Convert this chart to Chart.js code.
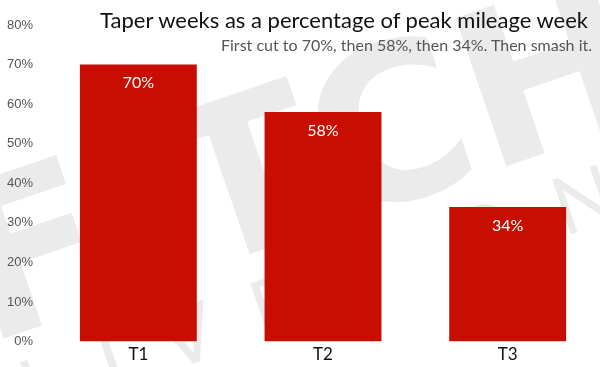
<!DOCTYPE html>
<html>
<head>
<meta charset="utf-8">
<script src="https://cdn.jsdelivr.net/npm/chart.js@4.4.0/dist/chart.umd.min.js"></script>
<style>
  html, body { margin: 0; padding: 0; background: #fff; }
  #wrap { position: relative; width: 600px; height: 367px; }
  #title { position: absolute; right: 12px; top: 6px; font: 22px Lato; color: #111; white-space: nowrap; }
  #subtitle { position: absolute; right: 8px; top: 35px; font: 16px Lato; color: #555; white-space: nowrap; }
</style>
</head>
<body>
<div id="wrap">
  <canvas id="chart" width="600" height="367"></canvas>
  <div id="title">Taper weeks as a percentage of peak mileage week</div>
  <div id="subtitle">First cut to 70%, then 58%, then 34%. Then smash it.</div>
</div>
<script>
const categories = ['T1', 'T2', 'T3'];
const taperPercent = [70, 58, 34];
const yTicks = [0, 10, 20, 30, 40, 50, 60, 70, 80];

// faint logo in the background
const watermark = {
    id: 'watermark',
    beforeDraw(chart) {
        const ctx = chart.ctx;
        ctx.save();
        ctx.fillStyle = '#ebebeb';
        ctx.translate(-15, 345);
        ctx.rotate(-0.33);
        ctx.font = 'bold 215px "DejaVu Sans"';
        ctx.fillText('FITCH', 0, 0);
        ctx.font = '400 80px Lato';
        ctx.letterSpacing = '42px';
        ctx.fillText('LIVE  ONLINE', 20, 85);
        ctx.restore();
    }
};

const barLabels = {
    id: 'barLabels',
    afterDatasetsDraw(chart) {
        const ctx = chart.ctx;
        const meta = chart.getDatasetMeta(0);
        ctx.save();
        ctx.fillStyle = '#fff';
        ctx.font = '16px Lato';
        ctx.textAlign = 'center';
        ctx.textBaseline = 'middle';
        meta.data.forEach((bar, i) => {
            ctx.fillText(taperPercent[i] + '%', bar.x, bar.y + 18.5);
        });
        ctx.restore();
    }
};

new Chart(document.getElementById('chart'), {
    type: 'bar',
    data: {
        labels: categories,
        datasets: [{
            data: taperPercent,
            backgroundColor: '#c80e00',
            borderWidth: 0,
            barPercentage: 0.633,
            categoryPercentage: 1
        }]
    },
    options: {
        responsive: false,
        animation: false,
        layout: { padding: { top: 25, right: 0, bottom: -1, left: 0 } },
        plugins: {
            legend: { display: false },
            tooltip: { enabled: false }
        },
        scales: {
            x: {
                grid: { display: false, drawTicks: false },
                border: { display: false },
                ticks: { color: '#111', font: { family: 'Lato', size: 17 }, padding: 3 }
            },
            y: {
                min: 0,
                max: 80,
                afterBuildTicks: s => { s.ticks = yTicks.map(v => ({ value: v })); },
                afterFit: s => { s.width = 46; },
                grid: { display: false, drawTicks: false },
                border: { display: false },
                ticks: {
                    color: '#555',
                    font: { family: 'Liberation Sans', size: 13 },
                    padding: 13,
                    callback: v => v + '%'
                }
            }
        }
    },
    plugins: [watermark, barLabels]
});
</script>
</body>
</html>
